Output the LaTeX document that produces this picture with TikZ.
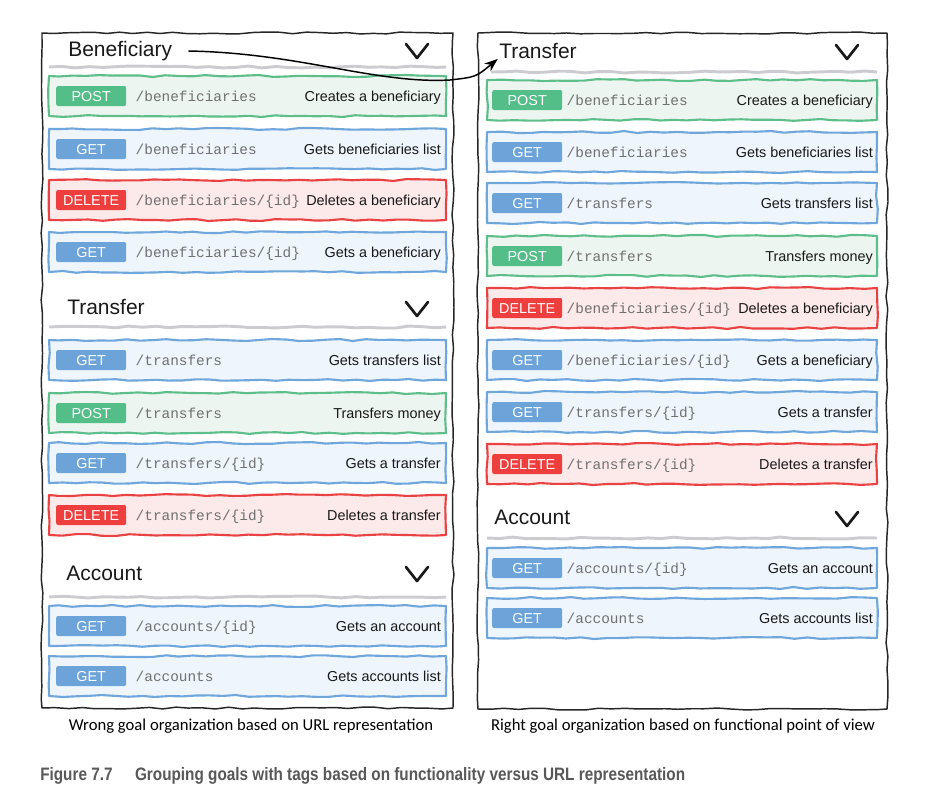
\documentclass[tikz,border=0pt]{standalone}
\usepackage{fontspec}
\setmainfont{Liberation Sans}
\setmonofont{Liberation Mono}
\newfontfamily\handfont{Carlito}
\newfontfamily\figfont[FakeStretch=0.85]{Liberation Sans}
\usetikzlibrary{positioning,arrows.meta,decorations.pathmorphing}

\definecolor{postline}{RGB}{94,190,138}
\definecolor{postfill}{RGB}{237,245,240}
\definecolor{postbadge}{RGB}{84,190,137}
\definecolor{getline}{RGB}{111,166,219}
\definecolor{getfill}{RGB}{238,245,252}
\definecolor{getbadge}{RGB}{108,163,216}
\definecolor{delline}{RGB}{234,66,66}
\definecolor{delfill}{RGB}{252,233,233}
\definecolor{delbadge}{RGB}{238,62,62}
\definecolor{sepgray}{RGB}{204,204,208}
\definecolor{urlgray}{RGB}{112,112,112}
\definecolor{capgray}{RGB}{88,88,88}

\pgfmathsetseed{11}

\begin{document}
\begin{tikzpicture}[x=0.75pt,y=-0.75pt,
  sketch/.style={decorate,decoration={random steps,segment length=10pt,amplitude=0.75pt},line join=round},
  panel/.style={draw=black!85,line width=1.1pt,sketch},
  row/.style={sketch,line width=1.6pt,minimum height=30pt,inner sep=0pt},
  lrow/.style={row,minimum width=297.75pt},
  rrow/.style={row,minimum width=292.5pt},
  getrow/.style={draw=getline,fill=getfill},
  postrow/.style={draw=postline,fill=postfill},
  delrow/.style={draw=delline,fill=delfill},
  badge/.style={text=white,font=\fontsize{10.8}{12}\selectfont,minimum width=52.5pt,minimum height=15pt,
    inner sep=0pt,rounded corners=1.5pt,text height=7.8pt,text depth=0pt},
  getm/.style={badge,fill=getbadge},
  postm/.style={badge,fill=postbadge},
  delm/.style={badge,fill=delbadge},
  url/.style={font=\ttfamily\fontsize{10.8}{12}\selectfont,text=urlgray,inner sep=0pt,text height=7.8pt,text depth=0pt},
  desc/.style={font=\fontsize{10.8}{12}\selectfont,text=black!90,inner sep=0pt,text height=7.8pt,text depth=0pt},
  head/.style={font=\fontsize{15.75}{18}\selectfont,text=black!90,inner sep=0pt,anchor=west},
  chevron/.style={line width=2pt,line join=round,line cap=round,black!90},
  sepline/.style={draw=sepgray,line width=2.2pt,sketch},
  link/.style={line width=1.1pt,-{Stealth[length=10pt,width=7.5pt]}},
  note/.style={font=\handfont\fontsize{12.5}{14}\selectfont,inner sep=0pt},
  figcap/.style={font=\figfont\bfseries\fontsize{13.5}{15}\selectfont,text=capgray,inner sep=0pt}]
\useasboundingbox (0,0) rectangle (951,790);

% panels
\draw[panel] (42,33) rectangle (453,708);
\draw[panel] (478,33) rectangle (887,709);

% left panel: grouped by URL
\node[head] (lben) at (68,51) {Beneficiary};
\draw[chevron] (406,44) -- (417,58) -- (428,44);
\draw[sepline] (49,67) -- (446,67);

\node[lrow,postrow] (l1) at (247.5,96) {};
\node[postm,right=6pt of l1.west] (l1m) {POST};
\node[url,right=6.75pt of l1m] (l1u) {/beneficiaries};
\node[desc,left=4.5pt of l1.east] (l1d) {Creates a beneficiary};

\node[lrow,getrow] (l2) at (247.5,149) {};
\node[getm,right=6pt of l2.west] (l2m) {GET};
\node[url,right=6.75pt of l2m] (l2u) {/beneficiaries};
\node[desc,left=4.5pt of l2.east] (l2d) {Gets beneficiaries list};

\node[lrow,delrow] (l3) at (247.5,200) {};
\node[delm,right=6pt of l3.west] (l3m) {DELETE};
\node[url,right=6.75pt of l3m] (l3u) {/beneficiaries/\{id\}};
\node[desc,left=4.5pt of l3.east] (l3d) {Deletes a beneficiary};

\node[lrow,getrow] (l4) at (247.5,252) {};
\node[getm,right=6pt of l4.west] (l4m) {GET};
\node[url,right=6.75pt of l4m] (l4u) {/beneficiaries/\{id\}};
\node[desc,left=4.5pt of l4.east] (l4d) {Gets a beneficiary};

\node[head] (ltra) at (67,307) {Transfer};
\draw[chevron] (406,302) -- (417,316) -- (428,302);
\draw[sepline] (49,327) -- (446,327);

\node[lrow,getrow] (l5) at (247.5,360) {};
\node[getm,right=6pt of l5.west] (l5m) {GET};
\node[url,right=6.75pt of l5m] (l5u) {/transfers};
\node[desc,left=4.5pt of l5.east] (l5d) {Gets transfers list};

\node[lrow,postrow] (l6) at (247.5,413) {};
\node[postm,right=6pt of l6.west] (l6m) {POST};
\node[url,right=6.75pt of l6m] (l6u) {/transfers};
\node[desc,left=4.5pt of l6.east] (l6d) {Transfers money};

\node[lrow,getrow] (l7) at (247.5,463) {};
\node[getm,right=6pt of l7.west] (l7m) {GET};
\node[url,right=6.75pt of l7m] (l7u) {/transfers/\{id\}};
\node[desc,left=4.5pt of l7.east] (l7d) {Gets a transfer};

\node[lrow,delrow] (l8) at (247.5,515) {};
\node[delm,right=6pt of l8.west] (l8m) {DELETE};
\node[url,right=6.75pt of l8m] (l8u) {/transfers/\{id\}};
\node[desc,left=4.5pt of l8.east] (l8d) {Deletes a transfer};

\node[head] (lacc) at (66,573) {Account};
\draw[chevron] (406,567) -- (417,581) -- (428,567);
\draw[sepline] (49,597) -- (446,597);

\node[lrow,getrow] (l9) at (247.5,626) {};
\node[getm,right=6pt of l9.west] (l9m) {GET};
\node[url,right=6.75pt of l9m] (l9u) {/accounts/\{id\}};
\node[desc,left=4.5pt of l9.east] (l9d) {Gets an account};

\node[lrow,getrow] (l10) at (247.5,676) {};
\node[getm,right=6pt of l10.west] (l10m) {GET};
\node[url,right=6.75pt of l10m] (l10u) {/accounts};
\node[desc,left=4.5pt of l10.east] (l10d) {Gets accounts list};

% right panel: grouped by function
\node[head] (rtra) at (499,51) {Transfer};
\draw[chevron] (836,45) -- (847,59) -- (858,45);
\draw[sepline] (491,72) -- (877,72);

\node[rrow,postrow] (r1) at (682,100) {};
\node[postm,right=4.5pt of r1.west] (r1m) {POST};
\node[url,right=3pt of r1m] (r1u) {/beneficiaries};
\node[desc,left=3.75pt of r1.east] (r1d) {Creates a beneficiary};

\node[rrow,getrow] (r2) at (682,152) {};
\node[getm,right=4.5pt of r2.west] (r2m) {GET};
\node[url,right=3pt of r2m] (r2u) {/beneficiaries};
\node[desc,left=3.75pt of r2.east] (r2d) {Gets beneficiaries list};

\node[rrow,getrow] (r3) at (682,203) {};
\node[getm,right=4.5pt of r3.west] (r3m) {GET};
\node[url,right=3pt of r3m] (r3u) {/transfers};
\node[desc,left=3.75pt of r3.east] (r3d) {Gets transfers list};

\node[rrow,postrow] (r4) at (682,256) {};
\node[postm,right=4.5pt of r4.west] (r4m) {POST};
\node[url,right=3pt of r4m] (r4u) {/transfers};
\node[desc,left=3.75pt of r4.east] (r4d) {Transfers money};

\node[rrow,delrow] (r5) at (682,308) {};
\node[delm,right=4.5pt of r5.west] (r5m) {DELETE};
\node[url,right=3pt of r5m] (r5u) {/beneficiaries/\{id\}};
\node[desc,left=3.75pt of r5.east] (r5d) {Deletes a beneficiary};

\node[rrow,getrow] (r6) at (682,360) {};
\node[getm,right=4.5pt of r6.west] (r6m) {GET};
\node[url,right=3pt of r6m] (r6u) {/beneficiaries/\{id\}};
\node[desc,left=3.75pt of r6.east] (r6d) {Gets a beneficiary};

\node[rrow,getrow] (r7) at (682,412) {};
\node[getm,right=4.5pt of r7.west] (r7m) {GET};
\node[url,right=3pt of r7m] (r7u) {/transfers/\{id\}};
\node[desc,left=3.75pt of r7.east] (r7d) {Gets a transfer};

\node[rrow,delrow] (r8) at (682,464) {};
\node[delm,right=4.5pt of r8.west] (r8m) {DELETE};
\node[url,right=3pt of r8m] (r8u) {/transfers/\{id\}};
\node[desc,left=3.75pt of r8.east] (r8d) {Deletes a transfer};

\node[head] (racc) at (494,517) {Account};
\draw[chevron] (836,512) -- (847,526) -- (858,512);
\draw[sepline] (487,538) -- (877,538);

\node[rrow,getrow] (r9) at (682,568) {};
\node[getm,right=4.5pt of r9.west] (r9m) {GET};
\node[url,right=3pt of r9m] (r9u) {/accounts/\{id\}};
\node[desc,left=3.75pt of r9.east] (r9d) {Gets an account};

\node[rrow,getrow] (r10) at (682,618) {};
\node[getm,right=4.5pt of r10.west] (r10m) {GET};
\node[url,right=3pt of r10m] (r10u) {/accounts};
\node[desc,left=3.75pt of r10.east] (r10d) {Gets accounts list};

% moved group
\draw[link] ([xshift=12pt]lben.east) .. controls (300,53) and (375,84) .. (450,80)
  .. controls (476,77) .. ([xshift=-1pt]rtra.south west);

% captions
\node[note] (lnote) at (251,726) {Wrong goal organization based on URL representation};
\node[note] (rnote) at (683,726) {Right goal organization based on functional point of view};
\node[figcap,anchor=west] (fignum) at (40,776) {Figure 7.7};
\node[figcap,right=16.5pt of fignum] (figtext) {Grouping goals with tags based on functionality versus URL representation};
\end{tikzpicture}
\end{document}
